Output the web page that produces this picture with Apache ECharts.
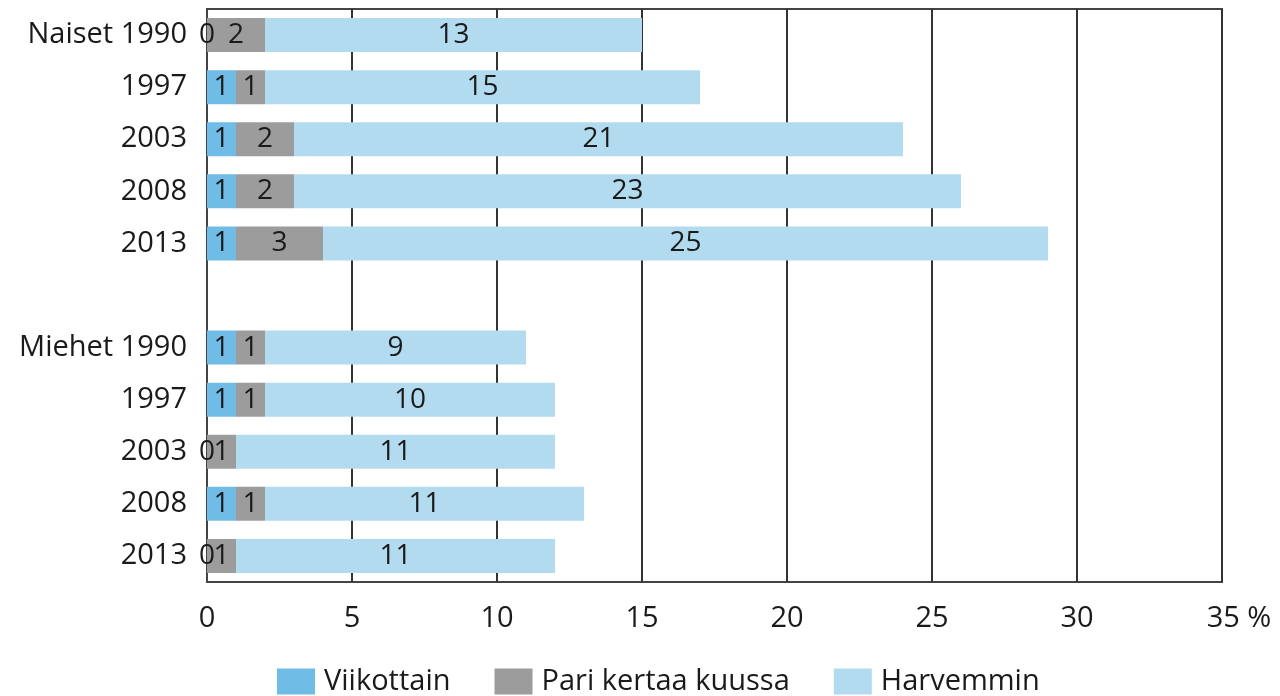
<!DOCTYPE html>
<html>
<head>
<meta charset="utf-8">
<script src="https://cdn.jsdelivr.net/npm/echarts@6/dist/echarts.min.js"></script>
<style>
  html, body { margin: 0; padding: 0; background: #fff; }
  #chart { width: 1280px; height: 696px; }
</style>
</head>
<body>
<div id="chart"></div>
<script>
const categories = ['Naiset 1990', '1997', '2003', '2008', '2013', '', 'Miehet 1990', '1997', '2003', '2008', '2013'];
const weekly = [0, 1, 1, 1, 1, null, 1, 1, 0, 1, 0];
const coupleMonthly = [2, 1, 2, 2, 3, null, 1, 1, 1, 1, 1];
const lessOften = [13, 15, 21, 23, 25, null, 9, 10, 11, 11, 11];
const seriesNames = ['Viikottain', 'Pari kertaa kuussa', 'Harvemmin'];
const colors = ['#6fbce6', '#9c9c9c', '#b3dbef'];

const font = 'Open Sans';
const chart = echarts.init(document.getElementById('chart'));

const label = {
  show: true,
  position: 'inside',
  color: '#1a1a1a',
  fontFamily: font,
  fontSize: 28
};

chart.setOption({
  animation: false,
  textStyle: { fontFamily: font },
  grid: {
    left: 207, right: 58, top: 9, bottom: 114,
    show: true, borderColor: '#444', borderWidth: 2, backgroundColor: 'transparent'
  },
  legend: {
    left: 272, top: 662,
    itemWidth: 38, itemHeight: 26, itemGap: 44,
    icon: 'rect',
    textStyle: { fontFamily: font, fontSize: 29, color: '#1a1a1a', padding: [0, 0, 0, 4] },
    data: seriesNames
  },
  xAxis: {
    type: 'value',
    min: 0, max: 35, interval: 5,
    axisLine: { show: false },
    axisTick: { show: false },
    splitLine: { lineStyle: { color: '#333', width: 2 } },
    axisLabel: {
      margin: 22,
      fontFamily: font, fontSize: 29, color: '#1a1a1a',
      formatter: v => v === 35 ? '{p|35 %}' : String(v),
      rich: { p: { fontFamily: font, fontSize: 29, color: '#1a1a1a', padding: [0, 0, 0, 34] } }
    }
  },
  yAxis: {
    type: 'category',
    inverse: true,
    data: categories,
    axisLine: { show: true, lineStyle: { color: '#444', width: 2 } },
    axisTick: { show: false },
    axisLabel: { margin: 20, fontFamily: font, fontSize: 29, color: '#1a1a1a' }
  },
  series: [weekly, coupleMonthly, lessOften].map((d, i) => ({
    name: seriesNames[i],
    type: 'bar',
    stack: 'total',
    barWidth: 34,
    itemStyle: { color: colors[i] },
    label: label,
    data: d
  }))
});
</script>
</body>
</html>
